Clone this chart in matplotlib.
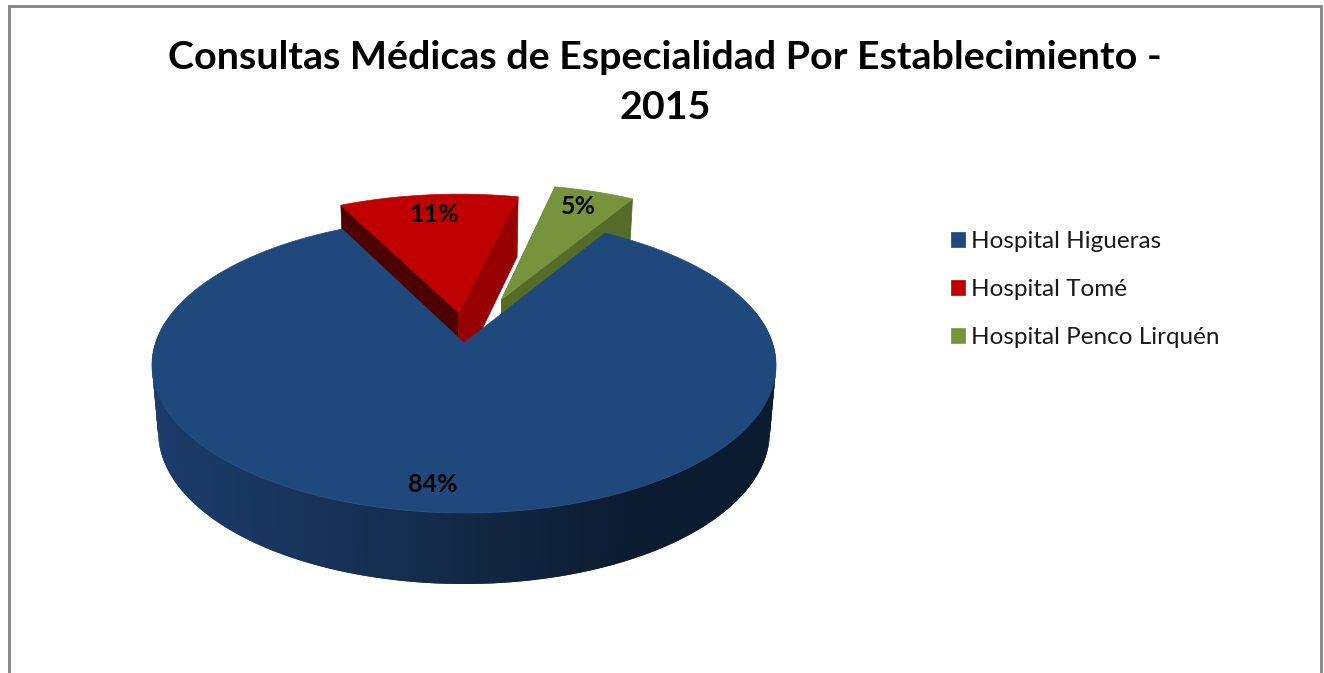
import numpy as np
import matplotlib
matplotlib.use("Agg")
import matplotlib.pyplot as plt
from matplotlib.patches import Polygon, Patch
from matplotlib.colors import to_rgb

title = "Consultas Médicas de Especialidad Por Establecimiento -\n2015"
hospitals = ["Hospital Higueras", "Hospital Tomé", "Hospital Penco Lirquén"]
percent = [84, 11, 5]

top_colors = ["#1F497D", "#C00000", "#77933C"]
left_face = ["#1F497D", "#4D0000", "#556B2A"]
right_face = ["#1F497D", "#960000", "#556B2A"]
explode = [0.0, 0.22, 0.34]
nudge_u = [0.0, 0.008, 0.0]
start_angle = 59.0

# projected pie: centre and perspective, in pixels of the picture
cx, cy = 464.0, 343.0
rx, ry, persp = 308.5, 144.5, 0.15
shrink = 0.98


def project(u, v):
    w = 1 + persp * v
    return cx + rx * u / w, cy - ry * v / w


def depth(v):
    return 66 - 5 * v


def bottom(u, v):
    x, y = project(u, v)
    return cx + shrink * (x - cx), y + depth(v)


def side_color(x):
    stops_x = [150, 300, 470, 620, 780]
    stops_c = [to_rgb(c) for c in ["#1B3C69", "#17345C", "#132844", "#0C1C30", "#0C1C30"]]
    return tuple(np.interp(x, stops_x, [c[i] for c in stops_c]) for i in range(3))


fig = plt.figure(figsize=(13.24, 6.73), dpi=100)
ax = fig.add_axes([0, 0, 1, 1])
ax.set_xlim(0, 1324)
ax.set_ylim(673, 0)
ax.axis("off")

# frame of the chart (open at the bottom)
ax.plot([9.2, 9.2, 1320.5, 1320.5], [673, 5.5, 5.5, 673], color="#868686", lw=2.1,
        solid_joinstyle="miter")

# slices run clockwise from start_angle
spans = []
a = start_angle
for p in percent:
    spans.append((a, a - p * 3.6))
    a -= p * 3.6

# exploded slices first, blue covers them
for i in [1, 2]:
    a0, a1 = np.radians(spans[i])
    mid = (a0 + a1) / 2
    ox, oy = explode[i] * np.cos(mid) + nudge_u[i], explode[i] * np.sin(mid)
    t = np.linspace(a0, a1, 40)
    u, v = ox + np.cos(t), oy + np.sin(t)
    for end, col in [(a0, left_face[i]), (a1, right_face[i])]:
        eu, ev = ox + np.cos(end), oy + np.sin(end)
        ax.add_patch(Polygon([project(ox, oy), project(eu, ev), bottom(eu, ev), bottom(ox, oy)],
                             closed=True, fc=col, ec=col, lw=0.5, zorder=2 + i))
    ax.add_patch(Polygon([project(ox, oy)] + [project(a_, b_) for a_, b_ in zip(u, v)],
                         closed=True, fc=top_colors[i], ec=top_colors[i], lw=0.5, zorder=4 + i))

# blue wall with its shading, each piece overlaps the next so no seams show
t = np.radians(np.arange(170, 374, 1.0))
for t0, t1, t2 in zip(t[:-2], t[1:-1], t[2:]):
    p0 = (np.cos(t0), np.sin(t0))
    p1 = (np.cos(t1), np.sin(t1))
    p2 = (np.cos(t2), np.sin(t2))
    col = side_color(project(*p0)[0])
    ax.add_patch(Polygon([project(*p0), project(*p1), project(*p2), bottom(*p2), bottom(*p1), bottom(*p0)],
                         closed=True, fc=col, ec="none", zorder=7))

# blue top
a0, a1 = np.radians(spans[0])
t = np.linspace(a0, a1, 400)
ax.add_patch(Polygon([project(0, 0)] + [project(np.cos(x), np.sin(x)) for x in t],
                     closed=True, fc=top_colors[0], ec=top_colors[0], lw=0.5, zorder=8))

# labels
label_xy = [(433, 485), (434, 215), (578, 207)]
for p, (x, y) in zip(percent, label_xy):
    ax.text(x, y, f"{p}%", ha="center", va="center", fontsize=18, fontweight="bold",
            family="Lato", color="black", zorder=10)

ax.text(665, 82.5, title, ha="center", va="center", fontsize=28.4, fontweight="bold",
        family="Lato", color="black", linespacing=1.5)

handles = [Patch(fc=c, ec=c, lw=0.5) for c in top_colors]
ax.legend(handles, hospitals, loc="upper left", bbox_to_anchor=(941, 221),
          bbox_transform=ax.transData, frameon=False, ncol=1,
          prop={"family": "Lato", "size": 17.5}, handlelength=0.57, handleheight=0.57,
          handletextpad=0.26, labelspacing=1.12, borderpad=0.4, borderaxespad=0, labelcolor="#1a1a1a")

fig.savefig("out.png", dpi=100)
